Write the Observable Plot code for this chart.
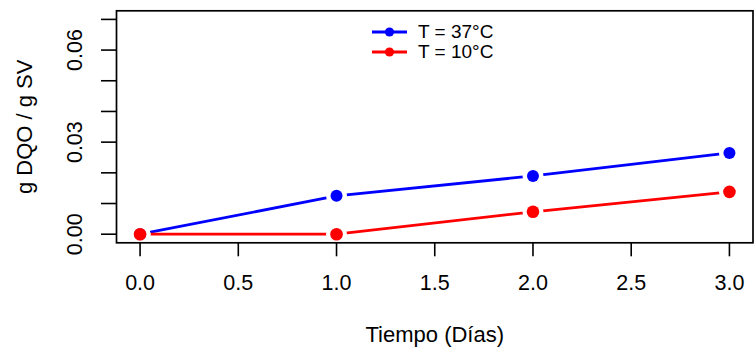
<!DOCTYPE html>
<html><head><meta charset="utf-8">
<script src="https://cdn.jsdelivr.net/npm/d3@7"></script>
<script src="https://cdn.jsdelivr.net/npm/@observablehq/plot@0.6"></script>
<style>
body{margin:0;background:#fff;}
#wrap{position:relative;width:754px;height:352px;font-family:"Liberation Sans",Arial,sans-serif;}
#legend{position:absolute;left:371.5px;top:22.3px;font-size:19px;color:#000;line-height:20px;}
.row{display:flex;align-items:center;height:20px;}
.row svg{margin-right:11.5px;display:block;}
</style></head><body><div id="wrap"><div id="legend"></div></div>
<script>
const days = [0, 1, 2, 3];
const seriesNames = ["T = 37°C", "T = 10°C"];
const seriesColors = ["#0000FF", "#FF0000"];
const t37 = [0, 0.0125, 0.019, 0.0265];
const t10 = [0, 0, 0.0073, 0.0138];
const xLim = [0, 3];
const yLim = [0, 0.07];
const xTicks = [0, 0.5, 1, 1.5, 2, 2.5, 3];
const yTicks = [0, 0.01, 0.02, 0.03, 0.04, 0.05, 0.06, 0.07];
const yTickLabels = [0, 0.03, 0.06];
const xLabel = "Tiempo (Días)";
const yLabel = "g DQO / g SV";

const data = [
  ...days.map((d, i) => ({day: d, value: t37[i], series: seriesNames[0]})),
  ...days.map((d, i) => ({day: d, value: t10[i], series: seriesNames[1]}))
];
const ext = (l) => { const e = (l[1] - l[0]) * 0.04; return [l[0] - e, l[1] + e]; };
const font = "'Liberation Sans', Arial, sans-serif";

const chart = Plot.plot({
  width: 754, height: 352,
  marginLeft: 116, marginRight: 1.5, marginTop: 10.3, marginBottom: 109.7,
  style: {fontFamily: font, fontSize: "21.5px", color: "#000", background: "#fff"},
  x: {domain: ext(xLim)},
  y: {domain: ext(yLim)},
  color: {domain: seriesNames, range: seriesColors},
  marks: [
    Plot.line(data.filter(d => d.series === seriesNames[0]), {x: "day", y: "value", stroke: seriesColors[0], strokeWidth: 2.8}),
    Plot.line(data.filter(d => d.series === seriesNames[1]), {x: "day", y: "value", stroke: seriesColors[1], strokeWidth: 2.8}),
    Plot.dot(data, {x: "day", y: "value", r: 10.5, fill: "#fff", stroke: null}),
    Plot.dot(data.filter(d => d.series === seriesNames[0]), {x: "day", y: "value", r: 6, fill: seriesColors[0], stroke: null}),
    Plot.dot(data.filter(d => d.series === seriesNames[1]), {x: "day", y: "value", r: 6.3, fill: seriesColors[1], stroke: null}),
    Plot.frame({stroke: "#000", strokeWidth: 1.7}),
    Plot.axisX({ticks: xTicks, tickSize: 14, tickPadding: 18, tickFormat: d3.format(".1f"), label: null, strokeWidth: 1.6, fontSize: 21.5}),
    Plot.axisY({ticks: yTicks, tickSize: 15, tickFormat: () => "", label: null, strokeWidth: 1.6}),
    Plot.text(yTickLabels, {y: d => d, text: d => d.toFixed(2), frameAnchor: "left", rotate: -90, textAnchor: "middle", lineAnchor: "bottom", dx: -34.3, fontSize: 21.5, fill: "#000"}),
    Plot.text([yLabel], {frameAnchor: "left", rotate: -90, textAnchor: "middle", lineAnchor: "bottom", dx: -84.5, fontSize: 22, fill: "#000"}),
    Plot.text([xLabel], {frameAnchor: "bottom", textAnchor: "middle", lineAnchor: "top", dy: 83.7, fontSize: 22, fill: "#000"})
  ]
});
document.getElementById("wrap").prepend(chart);

const legend = document.getElementById("legend");
seriesNames.forEach((name, i) => {
  const row = document.createElement("div");
  row.className = "row";
  row.innerHTML = `<svg width="35" height="12"><line x1="0" x2="35" y1="6" y2="6" stroke="${seriesColors[i]}" stroke-width="2.8"/><circle cx="17.5" cy="6" r="4.6" fill="${seriesColors[i]}"/></svg><span>${name}</span>`;
  legend.appendChild(row);
});
</script></body></html>
